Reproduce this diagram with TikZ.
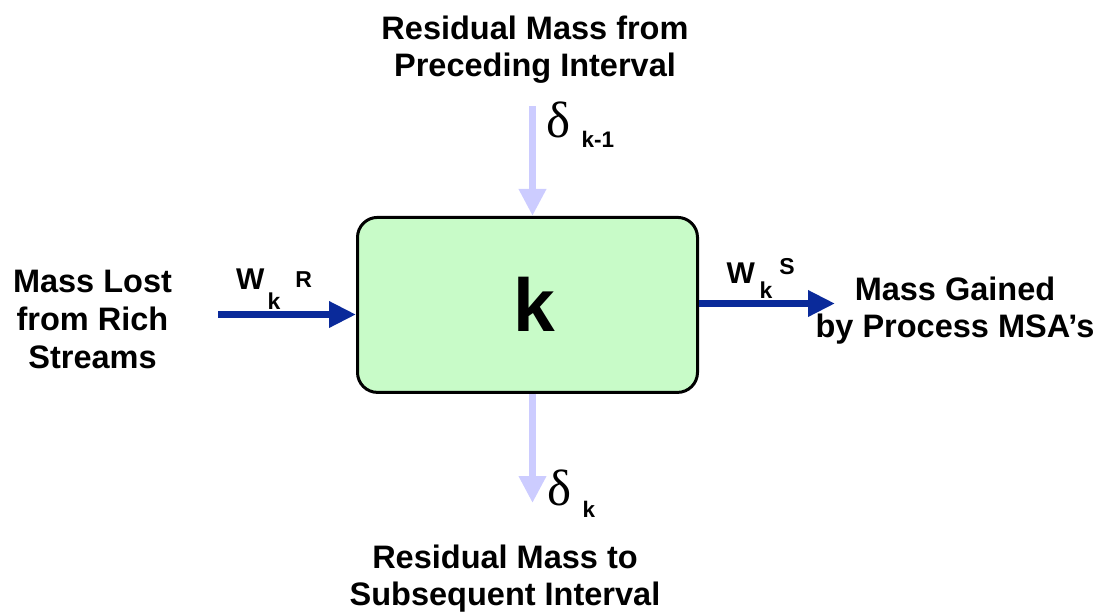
\documentclass[tikz,border=0pt]{standalone}
\usepackage{fontspec}
\setmainfont{Liberation Sans}
\newfontfamily\greekserif{Liberation Serif}
\usetikzlibrary{arrows.meta}
\definecolor{boxgreen}{HTML}{C8FBC8}
\definecolor{lav}{HTML}{CCCCFF}
\definecolor{darkblue}{HTML}{0A2A9A}
\tikzset{
  lbl/.style={align=center, inner sep=0pt, anchor=north, font=\fontsize{32.5}{37}\selectfont\bfseries},
  lavarrow/.style={draw=lav, line width=7pt, -{Triangle[length=27pt,width=26pt]}},
  bluearrow/.style={draw=darkblue, line width=6.5pt, -{Triangle[length=27pt,width=25pt]}},
  sym/.style={inner sep=0pt, anchor=base west},
  wfont/.style={font=\fontsize{30}{30}\selectfont\bfseries}
}
\newcommand{\subfnt}{\fontsize{23}{23}\selectfont}
\begin{document}
\begin{tikzpicture}[x=1pt,y=-1pt]
\useasboundingbox (0,0) rectangle (1100,614);
% central box
\node[draw=black, line width=3pt, fill=boxgreen, rounded corners=20pt,
      minimum width=340pt, minimum height=175pt, inner sep=0pt] (box) at (527.5,304.9) {};
\node[inner sep=0pt, font=\fontsize{75}{75}\selectfont\bfseries] (klabel) at (534,304) {k};
% texts
\node[lbl] (toptext) at (535,15.5) {Residual Mass from\\Preceding Interval};
\node[lbl] (bottext) at (505,544.5) {Residual Mass to\\Subsequent Interval};
\node[lbl, font=\fontsize{32.5}{38}\selectfont\bfseries] (lefttext) at (92.5,269.5) {Mass Lost\\from Rich\\Streams};
\node[lbl] (righttext) at (955,277) {Mass Gained\\by Process MSA’s};
% coordinates
\coordinate (topstart) at (532.5,106);
\coordinate (botend) at (532.5,503);
\coordinate (lstart) at (218,314.5);
\coordinate (rend) at (835,303.5);
% arrows
\draw[lavarrow] (topstart) -- (box.north -| topstart);
\draw[lavarrow] (box.south -| botend) -- (botend);
\draw[bluearrow] (lstart) -- (box.west |- lstart);
\draw[bluearrow] (box.east |- rend) -- (rend);
% arrow labels
\node[sym, wfont] (wr) at (236,289.5)
  {W\kern3pt\raisebox{-19.5pt}{\subfnt k}\kern15pt\raisebox{2pt}{\subfnt R}};
\node[sym, wfont] (ws) at (726.5,283.5)
  {W\kern4.5pt\raisebox{-15pt}{\subfnt k}\kern7pt\raisebox{9.5pt}{\subfnt S}};
\node[sym, font=\fontsize{51}{51}\selectfont\greekserif] (dtop) at (546,137) {δ};
\node[sym, font=\fontsize{22.5}{22.5}\selectfont\bfseries] (dtopsub) at (581.5,147) {k-1};
\node[sym, font=\fontsize{51}{51}\selectfont\greekserif] (dbot) at (547,505) {δ};
\node[sym, font=\fontsize{22.5}{22.5}\selectfont\bfseries] (dbotsub) at (582.5,517.5) {k};
\end{tikzpicture}
\end{document}
